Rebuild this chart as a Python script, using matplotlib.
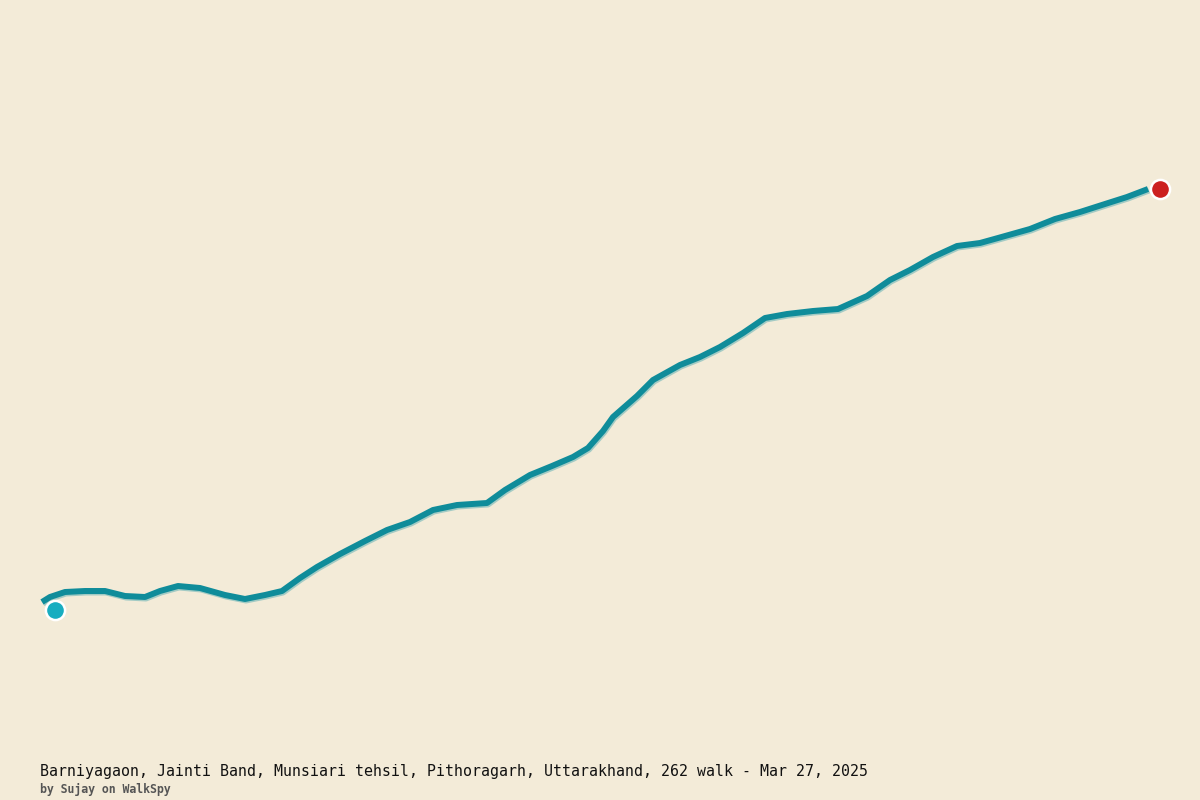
import matplotlib.pyplot as plt

# route track (x east, y south, screen-like units)
track_x = [42, 50, 65, 85, 105, 125, 145, 160, 178, 200, 225, 245, 265, 282,
           300, 317, 340, 365, 387, 410, 433, 457, 487, 505, 530, 552, 573,
           588, 603, 613, 637, 653, 680, 700, 720, 743, 765, 787, 813, 838,
           867, 890, 910, 933, 957, 980, 998, 1030, 1055, 1080, 1105, 1127, 1148]
track_y = [602, 597, 592, 591, 591, 596, 597, 591, 586, 588, 595, 599, 595, 591,
           578, 567, 554, 541, 530, 522, 510, 505, 503, 490, 475, 466, 457,
           448, 431, 417, 396, 380, 365, 357, 347, 333, 318, 314, 311, 309,
           296, 280, 270, 257, 246, 243, 238, 229, 219, 212, 204, 197, 189]
start_pt = (55, 610)
end_pt = (1160, 189)

title = "Barniyagaon, Jainti Band, Munsiari tehsil, Pithoragarh, Uttarakhand, 262 walk - Mar 27, 2025"
credit = "by Sujay on WalkSpy"

bg = "#f3ebd8"
fig = plt.figure(figsize=(12, 8), dpi=100, facecolor=bg)
ax = fig.add_axes([0, 0, 1, 1])
ax.set_facecolor(bg)
ax.set_xlim(0, 1200)
ax.set_ylim(800, 0)
ax.axis("off")

# faint halo under the track
ax.plot([x + 1 for x in track_x], [y + 1.5 for y in track_y], color="#8fc3c0",
        lw=4.3, solid_capstyle="butt", solid_joinstyle="round", alpha=0.8)
ax.plot(track_x, track_y, color="#0f8c9a", lw=4.3,
        solid_capstyle="butt", solid_joinstyle="round")

ax.scatter([start_pt[0]], [start_pt[1]], s=190, color="#18adc0",
           edgecolor="white", linewidth=1.8, zorder=5)
ax.scatter([end_pt[0]], [end_pt[1]], s=190, color="#cc2020",
           edgecolor="white", linewidth=1.8, zorder=5)

fig.text(40 / 1200, 1 - 776 / 800, title, fontsize=10.7, color="#111111",
         family="DejaVu Sans Mono", va="baseline")
fig.text(40 / 1200, 1 - 793 / 800, credit, fontsize=8.3, color="#555555",
         family="DejaVu Sans Mono", va="baseline", fontweight="bold")

fig.savefig("out.png", dpi=100, facecolor=bg)
